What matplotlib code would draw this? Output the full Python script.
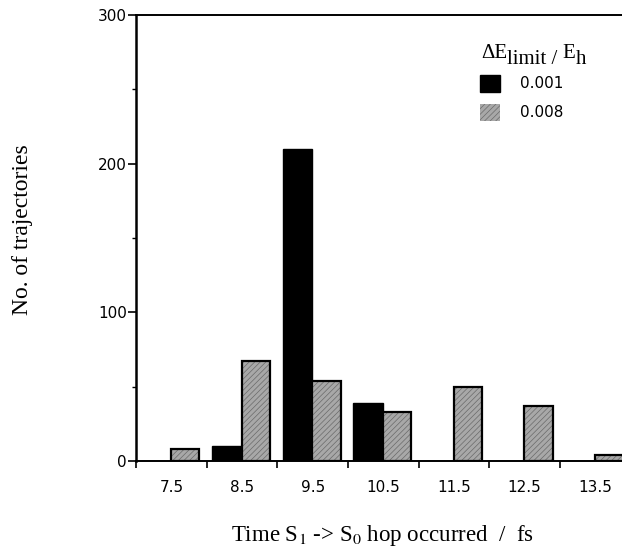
import matplotlib
matplotlib.use("Agg")
import matplotlib.pyplot as plt
from matplotlib.patches import Patch
import numpy as np

# ---- data ----
categories = ["7.5", "8.5", "9.5", "10.5", "11.5", "12.5", "13.5"]
series_names = ["0.001", "0.008"]
values_001 = [0, 10, 210, 39, 0, 0, 0]
values_008 = [8, 67, 54, 33, 50, 37, 4]
y_ticks = [0, 100, 200, 300]

GRAY = "#a8a8a8"
HATCH_C = "#6a6a6a"
plt.rcParams["hatch.linewidth"] = 0.5

fig = plt.figure(figsize=(6.22, 5.5), dpi=100)
ax = fig.add_axes([136 / 622, 89 / 550, 486 / 622, 446 / 550])

x = np.arange(len(categories))
# black series
ax.bar(x - 0.215, values_001, width=0.42, color="black", edgecolor="black",
       linewidth=1.0, zorder=3)
# gray textured series
ax.bar(x + 0.195, values_008, width=0.40, facecolor=GRAY, edgecolor=HATCH_C,
       hatch="//////", linewidth=0, zorder=3)
ax.bar(x + 0.195, values_008, width=0.40, fill=False, edgecolor="black",
       linewidth=1.6, zorder=4)

ax.set_xlim(-0.5, 6.377)
ax.set_ylim(0, 300)

# spines
ax.spines["right"].set_visible(False)
ax.spines["left"].set_linewidth(1.8)
ax.spines["bottom"].set_linewidth(1.4)
ax.spines["top"].set_linewidth(1.4)

# x ticks: boundaries as tick marks, labels at centers
ax.set_xticks(np.arange(len(categories)) - 0.5)
ax.set_xticklabels([])
ax.set_xticks(x, minor=True)
ax.set_xticklabels(categories, minor=True, fontsize=11, family="DejaVu Sans")
ax.tick_params(axis="x", which="major", direction="out", length=5, width=1.2)
ax.tick_params(axis="x", which="minor", length=0, pad=14)

# y ticks
ax.set_yticks(y_ticks)
ax.set_yticklabels([str(v) for v in y_ticks], fontsize=11, family="DejaVu Sans")
ax.set_yticks([50, 150, 250], minor=True)
ax.tick_params(axis="y", which="major", direction="out", length=6, width=1.2, pad=0.5)
ax.tick_params(axis="y", which="minor", direction="out", length=3, width=1.0)

# axis labels
fig.text(23 / 622, 1 - 230 / 550, "No. of trajectories", rotation=90,
         ha="center", va="center", fontsize=17, family="Liberation Serif")
fig.text(382 / 622, 1 - 535 / 550, r"Time S$_1$ -> S$_0$ hop occurred  /  fs",
         ha="center", va="center", fontsize=16.5, family="Liberation Serif",
         math_fontfamily="stix")

# legend
handles = [Patch(facecolor="black", edgecolor="black"),
           Patch(facecolor=GRAY, edgecolor=HATCH_C, hatch="//////", linewidth=0)]
leg = ax.legend(handles, series_names, loc="upper left",
                bbox_to_anchor=(480 / 622, 1 - 75 / 550), bbox_transform=fig.transFigure,
                frameon=False, handlelength=1.3, handleheight=1.3, handletextpad=1.3,
                labelspacing=0.8, prop={"family": "DejaVu Sans", "size": 11},
                borderaxespad=0, borderpad=0)

# legend title built from pieces (lowered "limit" and "h")
tprops = dict(fontsize=15, family="Liberation Serif")
t1 = fig.text(481 / 622, 1 - 58 / 550, "\u0394E", ha="left", va="baseline", **tprops)
t2 = ax.annotate("limit / ", xy=(1, 0), xycoords=t1, xytext=(0, -4),
                 textcoords="offset points", ha="left", va="bottom", **tprops)
t3 = ax.annotate("E", xy=(1, 0), xycoords=t2, xytext=(0, 4),
                 textcoords="offset points", ha="left", va="bottom", **tprops)
t4 = ax.annotate("h", xy=(1, 0), xycoords=t3, xytext=(0, -4),
                 textcoords="offset points", ha="left", va="bottom", **tprops)

fig.savefig("out.png", dpi=100)
